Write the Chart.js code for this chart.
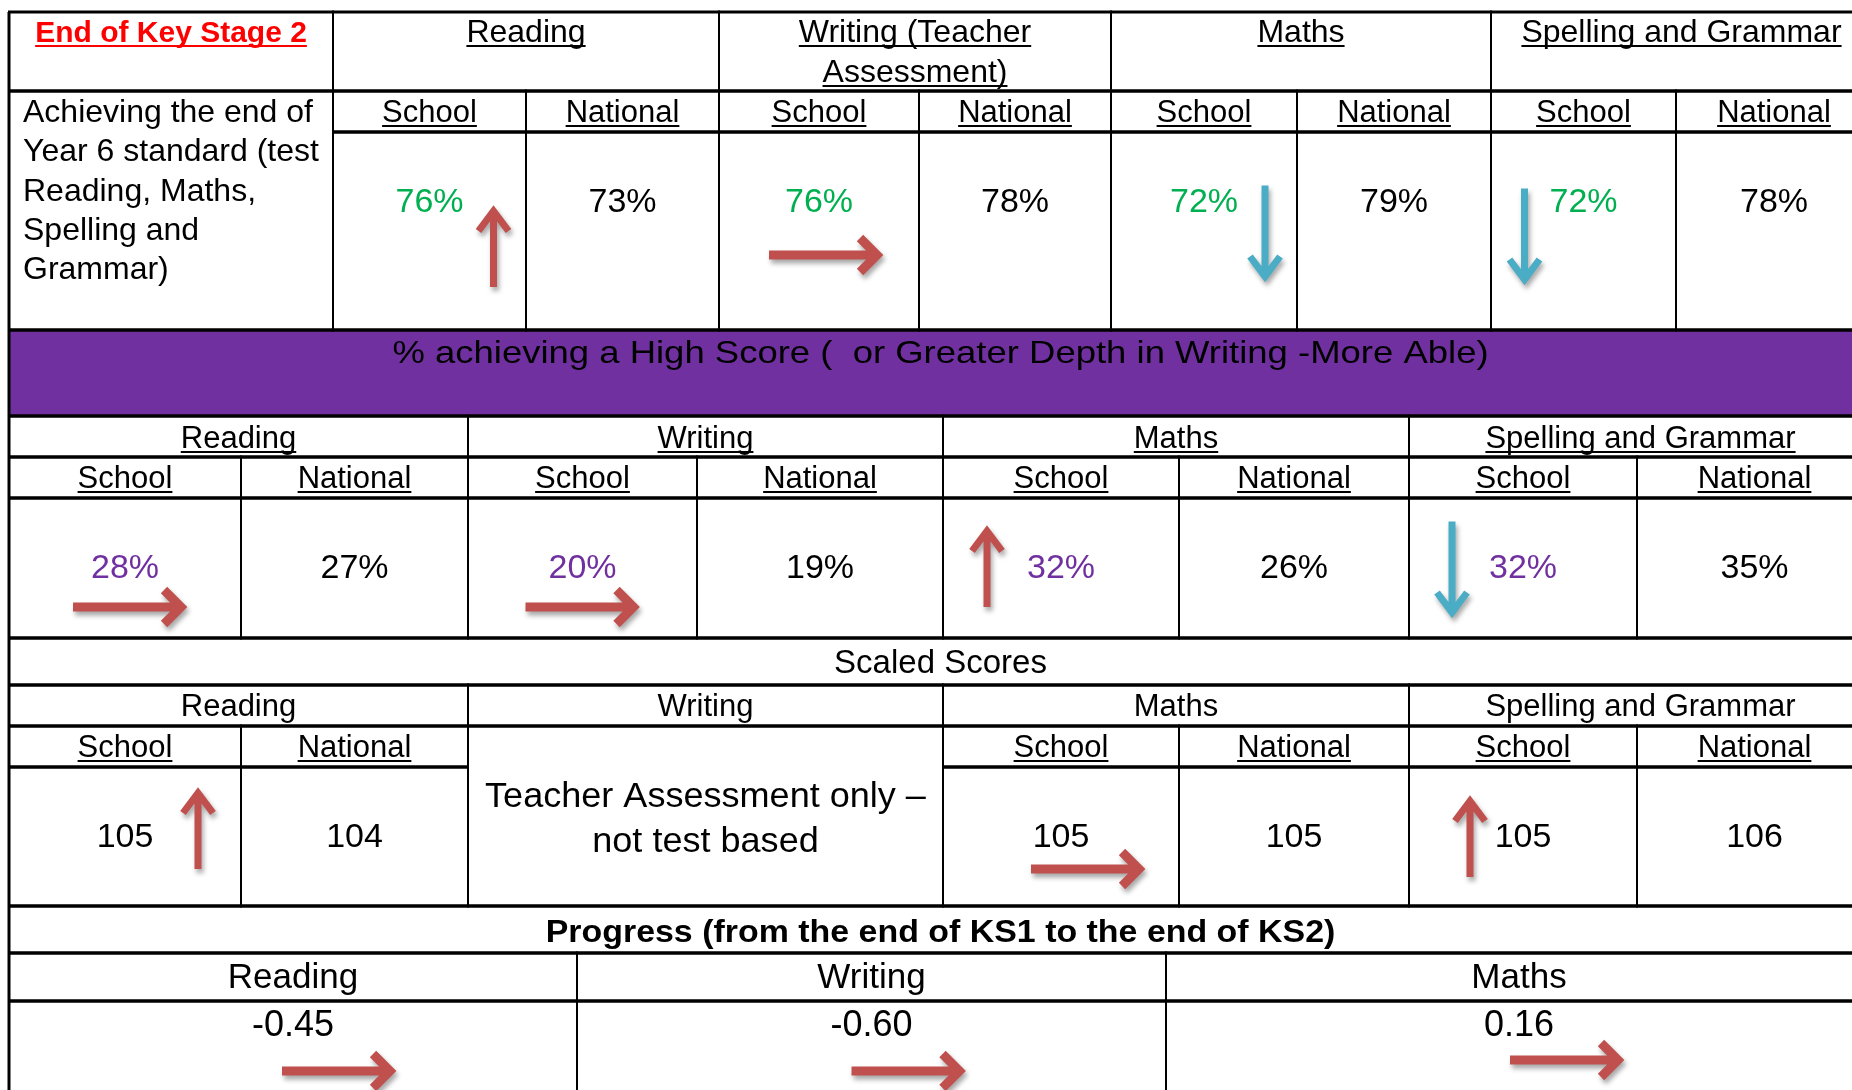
<!DOCTYPE html>
<html>
<head>
<meta charset="utf-8">
<script src="https://cdn.jsdelivr.net/npm/chart.js@4.4.1/dist/chart.umd.min.js"></script>
<style>
html, body { margin: 0; padding: 0; background: #fff; overflow: hidden; }
</style>
</head>
<body>
<canvas id="sheet" width="1852" height="1090"></canvas>
<script>
// values
const title = 'End of Key Stage 2'
const subjects = ['Reading', 'Writing', 'Maths', 'Spelling and Grammar']
const writingHeader = ['Writing (Teacher', 'Assessment)']
const columnLabels = ['School', 'National']
const expectedLabel = ['Achieving the end of', 'Year 6 standard (test', 'Reading, Maths,', 'Spelling and', 'Grammar)']
const expectedSchool = [76, 76, 72, 72]
const expectedNational = [73, 78, 79, 78]
const expectedTrend = ['up', 'right', 'down', 'down']
const highScoreTitle = '% achieving a High Score (  or Greater Depth in Writing -More Able)'
const highSchool = [28, 20, 32, 32]
const highNational = [27, 19, 26, 35]
const highTrend = ['right', 'right', 'up', 'down']
const scaledTitle = 'Scaled Scores'
const scaledSchool = [105, null, 105, 105]
const scaledNational = [104, null, 105, 106]
const scaledTrend = ['up', null, 'right', 'up']
const writingNote = ['Teacher Assessment only –', 'not test based']
const progressTitle = 'Progress (from the end of KS1 to the end of KS2)'
const progressSubjects = ['Reading', 'Writing', 'Maths']
const progressScores = [-0.45, -0.60, 0.16]
const progressTrend = ['right', 'right', 'right']

// layout (in sheet units, mapped through the chart scales)
const W = 1852, H = 1090
const cols1 = [9, 333, 526, 719, 919, 1111, 1297, 1491, 1676, 1872]
const cols2 = [9, 241, 468, 697, 943, 1179, 1409, 1637, 1872]
const cols4 = [9, 577, 1166, 1872]
const rows = {
    head: [12, 91], sub1: [91, 132], val1: [132, 330],
    band: [330, 416], subj2: [416, 457], sub2: [457, 498], val2: [498, 638],
    scaled: [638, 685], subj3: [685, 726], sub3: [726, 767], val3: [767, 906],
    prog: [906, 953], subj4: [953, 1001], val4: [1001, 1110]
}
// arrow centre offsets from (cell centre x, row top y)
const arrowSpots1 = [[64, 116], [5, 123], [61, 100], [-59, 103]]
const arrowSpots2 = [[3, 109], [-2, 109], [-74, 70], [-71, 70]]
const arrowSpots3 = [[73, 63], null, [25, 102], [-53, 71]]
const arrowSpots4 = [[44, 70], [35, 70], [46, 59]]
const arrowLength = {right: 110, up: 78, down: 93}

const FONT = '"Liberation Sans", Arial, sans-serif'
const GREEN = '#00b050'
const PURPLE = '#7030a0'
const RED = '#c0504d'
const BLUE = '#4bacc6'

function f(size, bold){
    return (bold ? 'bold ' : '') + size + 'px ' + FONT
}

const cells = []
function cell(x0, x1, y0, y1, texts, extra){
    cells.push(Object.assign({x0: x0, x1: x1, y0: y0, y1: y1, texts: texts || []}, extra || {}))
}
function centred(str, dy, font, color, underline, sx){
    return {str: str, dy: dy, font: font, color: color || '#000', underline: !!underline, sx: sx || 1}
}

// section 1: expected standard
cell(cols1[0], cols1[1], rows.head[0], rows.head[1], [centred(title, 30, f(30, true), '#ff0000', true)])
for(let i = 0; i < subjects.length; i++){
    const lines = i == 1 ? writingHeader : [subjects[i]]
    cell(cols1[1 + 2 * i], cols1[3 + 2 * i], rows.head[0], rows.head[1],
        lines.map((s, k) => centred(s, 30 + 40 * k, f(32), '#000', true)))
}
cell(cols1[0], cols1[1], rows.sub1[0], rows.val1[1],
    expectedLabel.map((s, k) => ({str: s, dy: 31 + 39.3 * k, font: f(32), color: '#000', align: 'left', dx: 14, sx: 1})))
for(let i = 0; i < subjects.length; i++){
    for(let j = 0; j < 2; j++){
        const x0 = cols1[1 + 2 * i + j], x1 = cols1[2 + 2 * i + j]
        cell(x0, x1, rows.sub1[0], rows.sub1[1], [centred(columnLabels[j], 31, f(31), '#000', true)])
        if(j == 0){
            cell(x0, x1, rows.val1[0], rows.val1[1], [centred(expectedSchool[i] + '%', 80, f(34), GREEN)],
                {arrow: expectedTrend[i], spot: arrowSpots1[i]})
        } else {
            cell(x0, x1, rows.val1[0], rows.val1[1], [centred(expectedNational[i] + '%', 80, f(34))])
        }
    }
}

// section 2: high score
cell(cols2[0], cols2[8], rows.band[0], rows.band[1], [centred(highScoreTitle, 33, f(32), '#000', false, 1.14)], {fill: PURPLE})
for(let i = 0; i < subjects.length; i++){
    cell(cols2[2 * i], cols2[2 * i + 2], rows.subj2[0], rows.subj2[1], [centred(subjects[i], 32, f(31), '#000', true)])
    for(let j = 0; j < 2; j++){
        const x0 = cols2[2 * i + j], x1 = cols2[2 * i + j + 1]
        cell(x0, x1, rows.sub2[0], rows.sub2[1], [centred(columnLabels[j], 31, f(31), '#000', true)])
        if(j == 0){
            cell(x0, x1, rows.val2[0], rows.val2[1], [centred(highSchool[i] + '%', 80, f(34), PURPLE)],
                {arrow: highTrend[i], spot: arrowSpots2[i]})
        } else {
            cell(x0, x1, rows.val2[0], rows.val2[1], [centred(highNational[i] + '%', 80, f(34))])
        }
    }
}

// section 3: scaled scores
cell(cols2[0], cols2[8], rows.scaled[0], rows.scaled[1], [centred(scaledTitle, 35, f(33))])
for(let i = 0; i < subjects.length; i++){
    cell(cols2[2 * i], cols2[2 * i + 2], rows.subj3[0], rows.subj3[1], [centred(subjects[i], 31, f(31))])
    if(scaledSchool[i] === null){
        cell(cols2[2 * i], cols2[2 * i + 2], rows.sub3[0], rows.val3[1],
            writingNote.map((s, k) => centred(s, 81 + 45 * k, f(35), '#000', false, 1.03)))
        continue
    }
    for(let j = 0; j < 2; j++){
        const x0 = cols2[2 * i + j], x1 = cols2[2 * i + j + 1]
        cell(x0, x1, rows.sub3[0], rows.sub3[1], [centred(columnLabels[j], 31, f(31), '#000', true)])
        if(j == 0){
            cell(x0, x1, rows.val3[0], rows.val3[1], [centred(String(scaledSchool[i]), 80, f(34))],
                {arrow: scaledTrend[i], spot: arrowSpots3[i]})
        } else {
            cell(x0, x1, rows.val3[0], rows.val3[1], [centred(String(scaledNational[i]), 80, f(34))])
        }
    }
}

// section 4: progress
cell(cols4[0], cols4[3], rows.prog[0], rows.prog[1], [centred(progressTitle, 36, f(32, true), '#000', false, 1.06)])
for(let i = 0; i < progressSubjects.length; i++){
    cell(cols4[i], cols4[i + 1], rows.subj4[0], rows.subj4[1], [centred(progressSubjects[i], 35, f(35))])
    cell(cols4[i], cols4[i + 1], rows.val4[0], rows.val4[1], [centred(progressScores[i].toFixed(2), 35, f(36))],
        {arrow: progressTrend[i], spot: arrowSpots4[i]})
}

function drawArrow(ctx, x, y, dir){
    const len = arrowLength[dir]
    const angle = dir == 'right' ? 0 : (dir == 'up' ? -Math.PI / 2 : Math.PI / 2)
    ctx.save()
    ctx.translate(x, y)
    ctx.rotate(angle)
    ctx.shadowColor = 'rgba(0,0,0,0.35)'
    ctx.shadowBlur = 5
    ctx.shadowOffsetX = 2
    ctx.shadowOffsetY = 4
    ctx.strokeStyle = dir == 'down' ? BLUE : RED
    ctx.lineWidth = dir == 'right' ? 9 : 7
    ctx.lineJoin = 'miter'
    ctx.beginPath()
    ctx.moveTo(-len / 2, 0)
    ctx.lineTo(len / 2 - 3, 0)
    const back = dir == 'right' ? 19 : 22
    const half = dir == 'right' ? 17 : 15
    ctx.moveTo(len / 2 - back, -half)
    ctx.lineTo(len / 2 - 2, 0)
    ctx.lineTo(len / 2 - back, half)
    ctx.stroke()
    ctx.restore()
}

const tablePlugin = {
    id: 'resultsTable',
    afterDraw(chart){
        const ctx = chart.ctx
        const xs = chart.scales.x, ys = chart.scales.y
        const X = v => xs.getPixelForValue(v)
        const Y = v => ys.getPixelForValue(v)
        ctx.save()
        for(const c of cells){
            if(c.fill){
                ctx.fillStyle = c.fill
                ctx.fillRect(X(c.x0), Y(c.y0), X(c.x1) - X(c.x0), Y(c.y1) - Y(c.y0))
            }
        }
        for(const c of cells){
            for(const t of c.texts){
                ctx.font = t.font
                ctx.fillStyle = t.color
                ctx.textBaseline = 'alphabetic'
                ctx.textAlign = 'left'
                const w = ctx.measureText(t.str).width * t.sx
                let left
                if(t.align == 'left'){
                    left = X(c.x0 + t.dx)
                } else {
                    left = (X(c.x0) + X(c.x1)) / 2 - w / 2
                }
                const base = Y(c.y0 + t.dy)
                ctx.save()
                ctx.translate(left, base)
                ctx.scale(t.sx, 1)
                ctx.fillText(t.str, 0, 0)
                ctx.restore()
                if(t.underline){
                    ctx.fillRect(left, base + 3, w, 2)
                }
            }
        }
        ctx.fillStyle = '#000'
        for(const c of cells){
            const x0 = X(c.x0), x1 = X(c.x1), y0 = Y(c.y0), y1 = Y(c.y1)
            // horizontal rules a touch heavier than vertical ones
            ctx.fillRect(x0 - 1, y0 - 1.5, x1 - x0 + 2, 3)
            ctx.fillRect(x0 - 1, y1 - 1.5, x1 - x0 + 2, 3)
            ctx.fillRect(x0 - 1, y0, 2, y1 - y0)
            ctx.fillRect(x1 - 1, y0, 2, y1 - y0)
        }
        ctx.fillRect(X(cols1[0]) - 1.5, Y(rows.head[0]), 3, Y(H) - Y(rows.head[0]))
        for(const c of cells){
            if(c.arrow && c.spot){
                const cx = (X(c.x0) + X(c.x1)) / 2
                drawArrow(ctx, cx + c.spot[0], Y(c.y0 + c.spot[1]), c.arrow)
            }
        }
        ctx.restore()
    }
}

new Chart(document.getElementById('sheet').getContext('2d'), {
    type: 'scatter',
    data: {datasets: []},
    options: {
        responsive: false,
        animation: false,
        devicePixelRatio: 1,
        events: [],
        layout: {padding: 0},
        plugins: {
            legend: {display: false},
            tooltip: {enabled: false}
        },
        scales: {
            x: {type: 'linear', min: 0, max: W, display: false},
            y: {type: 'linear', min: 0, max: H, reverse: true, display: false}
        }
    },
    plugins: [tablePlugin]
})
</script>
</body>
</html>
